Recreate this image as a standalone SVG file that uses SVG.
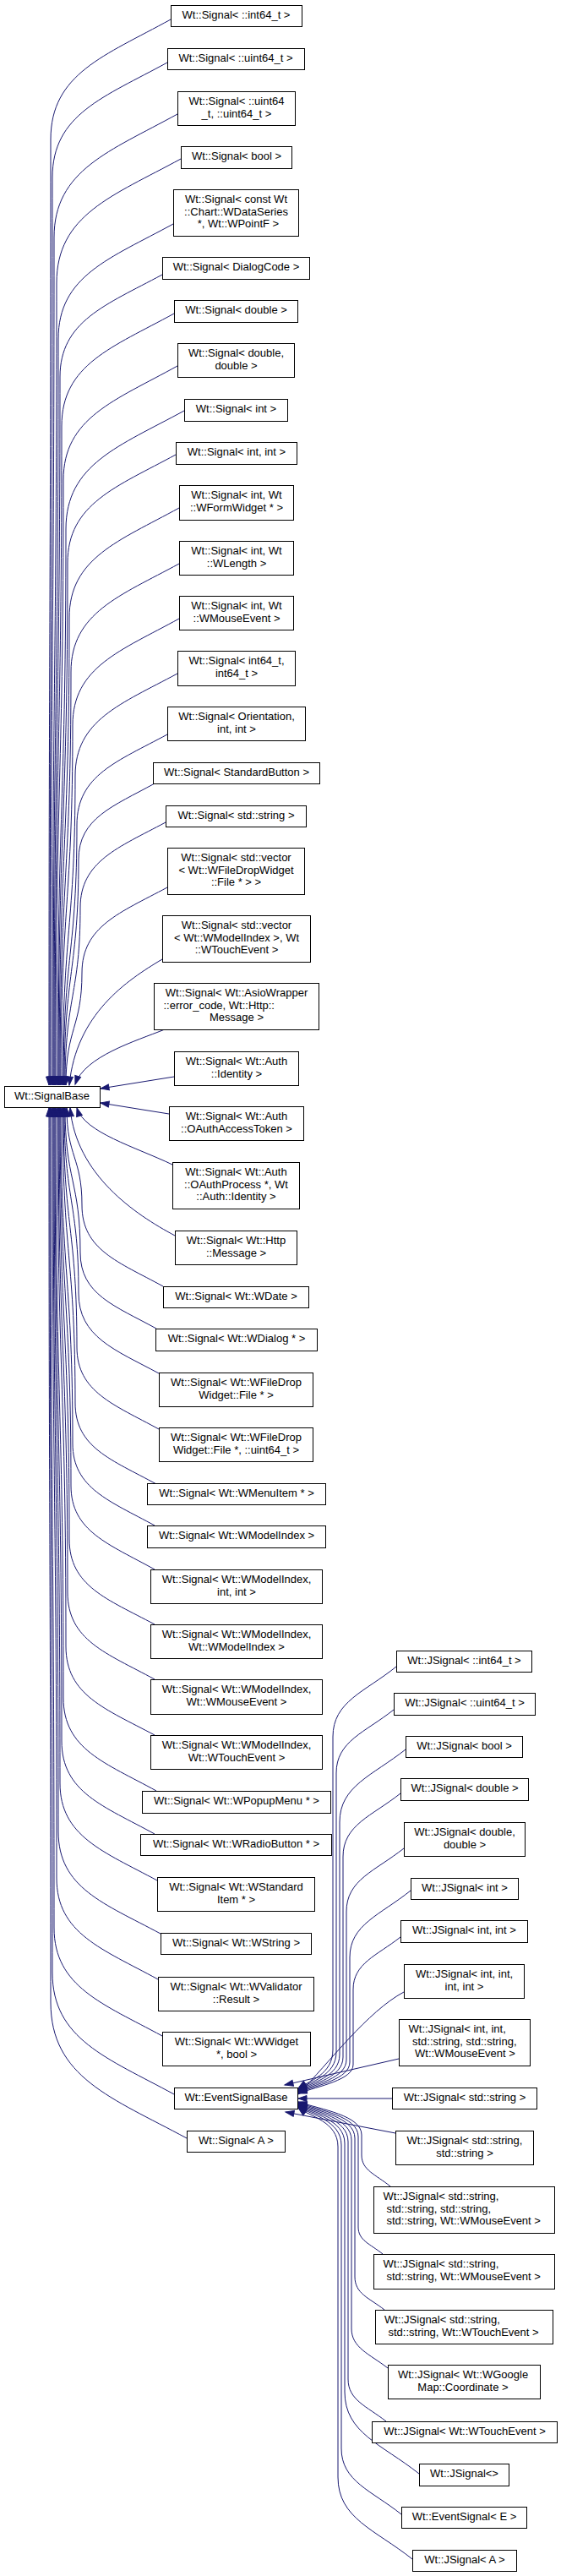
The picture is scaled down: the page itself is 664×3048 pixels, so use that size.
<svg xmlns="http://www.w3.org/2000/svg" width="664" height="3048" viewBox="0 0 664 3048">
<style>
.n rect{fill:#fff;stroke:#000;stroke-width:1}
.n text{font-family:"Liberation Sans",Arial,Helvetica,sans-serif;font-size:13px;fill:#000;text-anchor:middle}
.n text.l{text-anchor:start}
.e path{fill:none;stroke:#191970;stroke-width:1;marker-end:url(#ah)}
</style>
<defs>
<marker id="ah" markerWidth="12" markerHeight="9" refX="10" refY="4" orient="auto" markerUnits="userSpaceOnUse" overflow="visible">
<path d="M0,0.5 L10,4 L0,7.5 z" fill="#191970" stroke="#191970" stroke-width="1"/>
</marker>
</defs>
<rect width="664" height="3048" fill="#fff"/>
<g id="edges" class="e">
<path d="M202,23 C124,66 60,87 60,165 C60,723 58,723 58,1284"/>
<path d="M198,74 C123,115 62,135 62,210 C62,746 59,746 59,1284"/>
<path d="M210,135 C130,179 64,201 64,281 C64,781 60,781 60,1284"/>
<path d="M214,188 C133,232 67,254 67,335 C67,808 62,808 62,1284"/>
<path d="M205,265 C130,306 69,326 69,401 C69,841 63,841 63,1284"/>
<path d="M192,325 C125,361 71,380 71,446 C71,864 64,864 64,1284"/>
<path d="M206,371 C133,411 73,431 73,504 C73,893 65,893 65,1284"/>
<path d="M210,433 C136,474 75,494 75,568 C75,925 66,925 66,1284"/>
<path d="M218,486 C141,528 78,549 78,626 C78,954 68,954 68,1284"/>
<path d="M208,538 C138,576 80,596 80,666 C80,974 69,974 69,1284"/>
<path d="M212,601 C141,640 82,660 82,731 C82,1006 70,1006 70,1284"/>
<path d="M212,667 C142,705 84,725 84,795 C84,1038 71,1038 71,1284"/>
<path d="M212,732 C143,770 86,789 86,858 C86,1070 72,1070 72,1284"/>
<path d="M210,797 C143,833 89,852 89,918 C89,1100 74,1100 74,1284"/>
<path d="M198,869 C139,901 91,917 91,976 C91,1129 75,1129 75,1284"/>
<path d="M183,927 C134,954 93,968 93,1017 C93,1149 76,1149 76,1284"/>
<path d="M196,973 C140,1003 95,1019 95,1074 C95,1178 77,1178 77,1284"/>
<path d="M198,1050 C142,1080 97,1096 97,1151 C97,1216 78,1216 78,1284"/>
<path d="M192,1135 C150,1160 90,1200 82,1284"/>
<path d="M195,1218 C160,1232 100,1250 89,1283"/>
<path d="M206,1274 L119,1288"/>
<path d="M200,1318 L119,1305"/>
<path d="M204,1378 C160,1357 100,1340 91,1311"/>
<path d="M207,1462 C160,1437 90,1390 83,1311"/>
<path d="M193,1522 C140,1493 97,1479 97,1426 C97,1369 79,1369 79,1311"/>
<path d="M185,1572 C136,1545 95,1532 95,1482 C95,1397 77,1397 77,1311"/>
<path d="M188,1625 C136,1597 93,1582 93,1530 C93,1421 76,1421 76,1311"/>
<path d="M188,1691 C135,1662 91,1647 91,1594 C91,1453 75,1453 75,1311"/>
<path d="M185,1756 C132,1727 89,1713 89,1660 C89,1486 74,1486 74,1311"/>
<path d="M183,1805 C130,1776 86,1761 86,1708 C86,1510 72,1510 72,1311"/>
<path d="M183,1857 C129,1827 84,1812 84,1758 C84,1535 71,1535 71,1311"/>
<path d="M183,1922 C127,1892 82,1877 82,1821 C82,1566 70,1566 70,1311"/>
<path d="M183,1987 C126,1956 80,1941 80,1884 C80,1598 69,1598 69,1311"/>
<path d="M183,2053 C125,2022 78,2006 78,1948 C78,1630 68,1630 68,1311"/>
<path d="M185,2119 C125,2086 75,2070 75,2009 C75,1660 66,1660 66,1311"/>
<path d="M183,2170 C123,2137 73,2121 73,2060 C73,1686 65,1686 65,1311"/>
<path d="M186,2225 C123,2191 71,2173 71,2110 C71,1711 64,1711 64,1311"/>
<path d="M190,2288 C123,2252 69,2234 69,2167 C69,1739 63,1739 63,1311"/>
<path d="M187,2342 C121,2306 67,2288 67,2222 C67,1767 62,1767 62,1311"/>
<path d="M192,2409 C122,2371 64,2351 64,2281 C64,1796 60,1796 60,1311"/>
<path d="M206,2478 C127,2435 62,2413 62,2334 C62,1823 59,1823 59,1311"/>
<path d="M221,2530 C132,2482 60,2458 60,2369 C60,1840 58,1840 58,1311"/>
<path d="M469,1972 C432,2002 394,2013 394,2055 L394,2425 C394,2455 366,2462 353,2471"/>
<path d="M466,2023 C432,2050 398,2060 398,2098 L398,2428 C398,2456 368,2463 353,2472"/>
<path d="M480,2070 C441,2101 402,2113 402,2156 L402,2431 C402,2457 370,2464 353,2473"/>
<path d="M474,2122 C440,2149 406,2159 406,2197 L406,2434 C406,2458 372,2465 353,2474"/>
<path d="M478,2187 C444,2214 410,2224 410,2262 L410,2437 C410,2459 374,2466 353,2475"/>
<path d="M486,2237 C450,2266 414,2277 414,2316 L414,2440 C414,2460 376,2467 353,2476"/>
<path d="M474,2292 C446,2314 418,2323 418,2354 L418,2443 C418,2461 378,2468 353,2477"/>
<path d="M478,2357 C435,2380 390,2440 353,2478"/>
<path d="M472,2436 L337,2467"/>
<path d="M464,2483 L353,2483"/>
<path d="M468,2524 L338,2499"/>
<path d="M462,2587 C445,2573 428,2568 428,2550 L428,2526 C428,2503 380,2496 353,2487"/>
<path d="M453,2667 C438,2655 424,2651 424,2635 L424,2528 C424,2504 378,2497 353,2488"/>
<path d="M455,2733 C437,2719 420,2714 420,2694 L420,2530 C420,2505 376,2498 353,2489"/>
<path d="M459,2802 C437,2785 416,2778 416,2755 L416,2532 C416,2506 374,2499 353,2490"/>
<path d="M457,2865 C434,2847 412,2840 412,2815 L412,2534 C412,2507 372,2500 353,2491"/>
<path d="M496,2927 C452,2892 408,2879 408,2830 L408,2536 C408,2508 370,2501 353,2492"/>
<path d="M475,2975 C440,2947 404,2936 404,2897 L404,2538 C404,2509 368,2502 353,2493"/>
<path d="M488,3028 C444,2993 400,2980 400,2931 L400,2540 C400,2510 366,2504 353,2494"/>
</g>
<g id="n_signalbase" class="n"><rect x="5.5" y="1285.5" width="113" height="25"/><text x="61.5" y="1301">Wt::SignalBase</text></g>
<g id="n_s01" class="n"><rect x="202.5" y="6.5" width="155" height="25"/><text x="279.5" y="22">Wt::Signal&lt; ::int64_t &gt;</text></g>
<g id="n_s02" class="n"><rect x="198.5" y="57.5" width="162" height="25"/><text x="279" y="73">Wt::Signal&lt; ::uint64_t &gt;</text></g>
<g id="n_s03" class="n"><rect x="210.5" y="108.5" width="139" height="40"/><text x="280" y="124">Wt::Signal&lt; ::uint64</text><text x="280" y="138.5">_t, ::uint64_t &gt;</text></g>
<g id="n_s04" class="n"><rect x="214.5" y="173.5" width="131" height="26"/><text x="280" y="189">Wt::Signal&lt; bool &gt;</text></g>
<g id="n_s05" class="n"><rect x="205.5" y="224.5" width="148" height="55"/><text x="279.5" y="240">Wt::Signal&lt; const Wt</text><text x="279.5" y="254.5">::Chart::WDataSeries</text><text x="282" y="269">*, Wt::WPointF &gt;</text></g>
<g id="n_s06" class="n"><rect x="192.5" y="304.5" width="174" height="26"/><text x="279.5" y="320">Wt::Signal&lt; DialogCode &gt;</text></g>
<g id="n_s07" class="n"><rect x="206.5" y="355.5" width="146" height="26"/><text x="279.5" y="371">Wt::Signal&lt; double &gt;</text></g>
<g id="n_s08" class="n"><rect x="210.5" y="406.5" width="138" height="40"/><text x="279.5" y="422">Wt::Signal&lt; double,</text><text x="279.5" y="436.5">double &gt;</text></g>
<g id="n_s09" class="n"><rect x="218.5" y="472.5" width="122" height="26"/><text x="279.5" y="488">Wt::Signal&lt; int &gt;</text></g>
<g id="n_s10" class="n"><rect x="208.5" y="523.5" width="143" height="26"/><text x="280" y="539">Wt::Signal&lt; int, int &gt;</text></g>
<g id="n_s11" class="n"><rect x="212.5" y="574.5" width="135" height="41"/><text x="280" y="590">Wt::Signal&lt; int, Wt</text><text x="280" y="604.5">::WFormWidget * &gt;</text></g>
<g id="n_s12" class="n"><rect x="212.5" y="640.5" width="135" height="40"/><text x="280" y="656">Wt::Signal&lt; int, Wt</text><text x="280" y="670.5">::WLength &gt;</text></g>
<g id="n_s13" class="n"><rect x="212.5" y="705.5" width="135" height="40"/><text x="280" y="721">Wt::Signal&lt; int, Wt</text><text x="280" y="735.5">::WMouseEvent &gt;</text></g>
<g id="n_s14" class="n"><rect x="210.5" y="770.5" width="139" height="41"/><text x="280" y="786">Wt::Signal&lt; int64_t,</text><text x="280" y="800.5">int64_t &gt;</text></g>
<g id="n_s15" class="n"><rect x="198.5" y="836.5" width="163" height="40"/><text x="280" y="852">Wt::Signal&lt; Orientation,</text><text x="280" y="866.5">int, int &gt;</text></g>
<g id="n_s16" class="n"><rect x="181.5" y="902.5" width="197" height="25"/><text x="280" y="918">Wt::Signal&lt; StandardButton &gt;</text></g>
<g id="n_s17" class="n"><rect x="196.5" y="953.5" width="166" height="25"/><text x="279.5" y="969">Wt::Signal&lt; std::string &gt;</text></g>
<g id="n_s18" class="n"><rect x="198.5" y="1003.5" width="162" height="55"/><text x="279.5" y="1019">Wt::Signal&lt; std::vector</text><text x="279.5" y="1033.5">&lt; Wt::WFileDropWidget</text><text x="279.5" y="1048">::File * &gt; &gt;</text></g>
<g id="n_s19" class="n"><rect x="192.5" y="1083.5" width="175" height="55"/><text x="280" y="1099">Wt::Signal&lt; std::vector</text><text x="280" y="1113.5">&lt; Wt::WModelIndex &gt;, Wt</text><text x="280" y="1128">::WTouchEvent &gt;</text></g>
<g id="n_s20" class="n"><rect x="182.5" y="1163.5" width="195" height="55"/><text x="280" y="1179">Wt::Signal&lt; Wt::AsioWrapper</text><text class="l" x="193.5" y="1193.5">::error_code, Wt::Http::</text><text x="280" y="1208">Message &gt;</text></g>
<g id="n_s21" class="n"><rect x="206.5" y="1244.5" width="147" height="40"/><text x="280" y="1260">Wt::Signal&lt; Wt::Auth</text><text x="280" y="1274.5">::Identity &gt;</text></g>
<g id="n_s22" class="n"><rect x="200.5" y="1309.5" width="159" height="40"/><text x="280" y="1325">Wt::Signal&lt; Wt::Auth</text><text x="280" y="1339.5">::OAuthAccessToken &gt;</text></g>
<g id="n_s23" class="n"><rect x="204.5" y="1375.5" width="150" height="55"/><text x="279.5" y="1391">Wt::Signal&lt; Wt::Auth</text><text x="279.5" y="1405.5">::OAuthProcess *, Wt</text><text x="279.5" y="1420">::Auth::Identity &gt;</text></g>
<g id="n_s24" class="n"><rect x="207.5" y="1456.5" width="144" height="40"/><text x="279.5" y="1472">Wt::Signal&lt; Wt::Http</text><text x="279.5" y="1486.5">::Message &gt;</text></g>
<g id="n_s25" class="n"><rect x="193.5" y="1522.5" width="172" height="25"/><text x="279.5" y="1538">Wt::Signal&lt; Wt::WDate &gt;</text></g>
<g id="n_s26" class="n"><rect x="184.5" y="1572.5" width="191" height="26"/><text x="280" y="1588">Wt::Signal&lt; Wt::WDialog * &gt;</text></g>
<g id="n_s27" class="n"><rect x="188.5" y="1624.5" width="182" height="40"/><text x="279.5" y="1640">Wt::Signal&lt; Wt::WFileDrop</text><text x="279.5" y="1654.5">Widget::File * &gt;</text></g>
<g id="n_s28" class="n"><rect x="188.5" y="1689.5" width="182" height="40"/><text x="279.5" y="1705">Wt::Signal&lt; Wt::WFileDrop</text><text x="279.5" y="1719.5">Widget::File *, ::uint64_t &gt;</text></g>
<g id="n_s29" class="n"><rect x="174.5" y="1755.5" width="211" height="25"/><text x="280" y="1771">Wt::Signal&lt; Wt::WMenuItem * &gt;</text></g>
<g id="n_s30" class="n"><rect x="174.5" y="1805.5" width="211" height="26"/><text x="280" y="1821">Wt::Signal&lt; Wt::WModelIndex &gt;</text></g>
<g id="n_s31" class="n"><rect x="178.5" y="1857.5" width="203" height="40"/><text x="280" y="1873">Wt::Signal&lt; Wt::WModelIndex,</text><text x="280" y="1887.5">int, int &gt;</text></g>
<g id="n_s32" class="n"><rect x="178.5" y="1922.5" width="203" height="40"/><text x="280" y="1938">Wt::Signal&lt; Wt::WModelIndex,</text><text x="280" y="1952.5">Wt::WModelIndex &gt;</text></g>
<g id="n_s33" class="n"><rect x="178.5" y="1987.5" width="203" height="41"/><text x="280" y="2003">Wt::Signal&lt; Wt::WModelIndex,</text><text x="280" y="2017.5">Wt::WMouseEvent &gt;</text></g>
<g id="n_s34" class="n"><rect x="178.5" y="2053.5" width="203" height="40"/><text x="280" y="2069">Wt::Signal&lt; Wt::WModelIndex,</text><text x="280" y="2083.5">Wt::WTouchEvent &gt;</text></g>
<g id="n_s35" class="n"><rect x="168.5" y="2119.5" width="223" height="26"/><text x="280" y="2135">Wt::Signal&lt; Wt::WPopupMenu * &gt;</text></g>
<g id="n_s36" class="n"><rect x="166.5" y="2170.5" width="226" height="25"/><text x="279.5" y="2186">Wt::Signal&lt; Wt::WRadioButton * &gt;</text></g>
<g id="n_s37" class="n"><rect x="186.5" y="2221.5" width="186" height="40"/><text x="279.5" y="2237">Wt::Signal&lt; Wt::WStandard</text><text x="279.5" y="2251.5">Item * &gt;</text></g>
<g id="n_s38" class="n"><rect x="190.5" y="2287.5" width="178" height="25"/><text x="279.5" y="2303">Wt::Signal&lt; Wt::WString &gt;</text></g>
<g id="n_s39" class="n"><rect x="187.5" y="2339.5" width="184" height="40"/><text x="279.5" y="2355">Wt::Signal&lt; Wt::WValidator</text><text x="279.5" y="2369.5">::Result &gt;</text></g>
<g id="n_s40" class="n"><rect x="192.5" y="2404.5" width="175" height="40"/><text x="280" y="2420">Wt::Signal&lt; Wt::WWidget</text><text x="280" y="2434.5">*, bool &gt;</text></g>
<g id="n_eventsignalbase" class="n"><rect x="206.5" y="2470.5" width="146" height="25"/><text x="279.5" y="2486">Wt::EventSignalBase</text></g>
<g id="n_signal_a" class="n"><rect x="221.5" y="2521.5" width="116" height="25"/><text x="279.5" y="2537">Wt::Signal&lt; A &gt;</text></g>
<g id="n_j01" class="n"><rect x="469.5" y="1953.5" width="160" height="25"/><text x="549.5" y="1969">Wt::JSignal&lt; ::int64_t &gt;</text></g>
<g id="n_j02" class="n"><rect x="466.5" y="2003.5" width="167" height="26"/><text x="550" y="2019">Wt::JSignal&lt; ::uint64_t &gt;</text></g>
<g id="n_j03" class="n"><rect x="480.5" y="2054.5" width="138" height="25"/><text x="549.5" y="2070">Wt::JSignal&lt; bool &gt;</text></g>
<g id="n_j04" class="n"><rect x="474.5" y="2104.5" width="151" height="26"/><text x="550" y="2120">Wt::JSignal&lt; double &gt;</text></g>
<g id="n_j05" class="n"><rect x="478.5" y="2156.5" width="143" height="40"/><text x="550" y="2172">Wt::JSignal&lt; double,</text><text x="550" y="2186.5">double &gt;</text></g>
<g id="n_j06" class="n"><rect x="486.5" y="2222.5" width="127" height="25"/><text x="550" y="2238">Wt::JSignal&lt; int &gt;</text></g>
<g id="n_j07" class="n"><rect x="474.5" y="2272.5" width="150" height="26"/><text x="549.5" y="2288">Wt::JSignal&lt; int, int &gt;</text></g>
<g id="n_j08" class="n"><rect x="478.5" y="2324.5" width="142" height="40"/><text x="549.5" y="2340">Wt::JSignal&lt; int, int,</text><text x="549.5" y="2354.5">int, int &gt;</text></g>
<g id="n_j09" class="n"><rect x="472.5" y="2389.5" width="155" height="55"/><text class="l" x="483.5" y="2405">Wt::JSignal&lt; int, int,</text><text class="l" x="488" y="2419.5">std::string, std::string,</text><text class="l" x="491" y="2434">Wt::WMouseEvent &gt;</text></g>
<g id="n_j10" class="n"><rect x="464.5" y="2470.5" width="171" height="25"/><text x="550" y="2486">Wt::JSignal&lt; std::string &gt;</text></g>
<g id="n_j11" class="n"><rect x="468.5" y="2521.5" width="163" height="40"/><text x="550" y="2537">Wt::JSignal&lt; std::string,</text><text x="550" y="2551.5">std::string &gt;</text></g>
<g id="n_j12" class="n"><rect x="442.5" y="2587.5" width="214" height="55"/><text class="l" x="453.5" y="2603">Wt::JSignal&lt; std::string,</text><text class="l" x="457.5" y="2617.5">std::string, std::string,</text><text class="l" x="457.5" y="2632">std::string, Wt::WMouseEvent &gt;</text></g>
<g id="n_j13" class="n"><rect x="442.5" y="2667.5" width="214" height="41"/><text class="l" x="453.5" y="2683">Wt::JSignal&lt; std::string,</text><text class="l" x="457.5" y="2697.5">std::string, Wt::WMouseEvent &gt;</text></g>
<g id="n_j14" class="n"><rect x="444.5" y="2733.5" width="210" height="40"/><text class="l" x="455" y="2749">Wt::JSignal&lt; std::string,</text><text class="l" x="459.5" y="2763.5">std::string, Wt::WTouchEvent &gt;</text></g>
<g id="n_j15" class="n"><rect x="459.5" y="2798.5" width="180" height="40"/><text x="548" y="2814">Wt::JSignal&lt; Wt::WGoogle</text><text x="548" y="2828.5">Map::Coordinate &gt;</text></g>
<g id="n_j16" class="n"><rect x="440.5" y="2865.5" width="219" height="25"/><text x="550" y="2881">Wt::JSignal&lt; Wt::WTouchEvent &gt;</text></g>
<g id="n_j17" class="n"><rect x="496.5" y="2915.5" width="106" height="26"/><text x="549.5" y="2931">Wt::JSignal&lt;&gt;</text></g>
<g id="n_j18" class="n"><rect x="475.5" y="2966.5" width="148" height="25"/><text x="549.5" y="2982">Wt::EventSignal&lt; E &gt;</text></g>
<g id="n_j19" class="n"><rect x="488.5" y="3017.5" width="123" height="25"/><text x="550" y="3033">Wt::JSignal&lt; A &gt;</text></g>
</svg>
